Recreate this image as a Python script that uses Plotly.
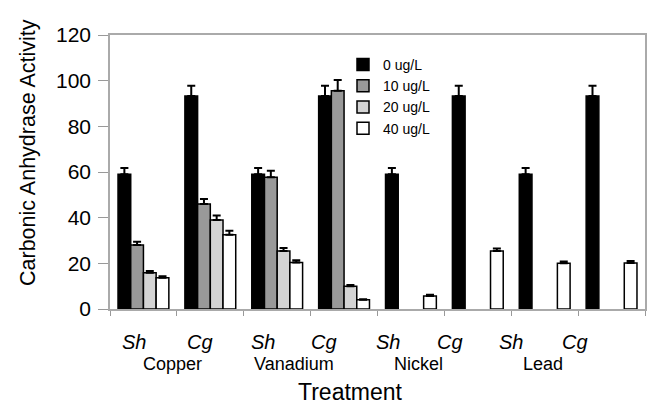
import plotly.graph_objects as go

groups = ["Cu-Sh", "Cu-Cg", "V-Sh", "V-Cg", "Ni-Sh", "Ni-Cg", "Pb-Sh", "Pb-Cg"]
species_labels = ["Sh", "Cg", "Sh", "Cg", "Sh", "Cg", "Sh", "Cg"]
metals = ["Copper", "Vanadium", "Nickel", "Lead"]
series_names = ["0 ug/L", "10 ug/L", "20 ug/L", "40 ug/L"]

vals_0 = [59, 93.3, 59, 93.3, 59, 93.3, 59, 93.3]
vals_10 = [28, 46, 57.7, 95.6, None, None, None, None]
vals_20 = [15.9, 39, 25.4, 10, None, None, None, None]
vals_40 = [13.7, 32.5, 20.4, 4, 5.7, 25.4, 20, 20.2]

err_0 = [2.7, 4.5, 2.7, 4.5, 2.7, 4.5, 2.7, 4.5]
err_10 = [1.5, 2.2, 2.9, 4.7, 0, 0, 0, 0]
err_20 = [0.7, 2.0, 1.3, 0.5, 0, 0, 0, 0]
err_40 = [0.6, 1.8, 1.0, 0.3, 0.5, 1.1, 0.8, 0.8]

colors = ["#000000", "#999999", "#d4d4d4", "#ffffff"]

# label positions (pixels)
species_px = [134, 200, 263, 324, 388, 450, 511, 575]
metal_px = [172, 294, 418, 543]

L, R, T, B = 110, 7, 35, 100
W, H = 652, 409
pw = W - L - R
ph = H - T - B


def px_to_paper_x(px):
    return (px - L) / pw


def py_to_paper_y(py):
    return (H - B - py) / ph


fig = go.Figure()
for name, v, e, c in zip(series_names, [vals_0, vals_10, vals_20, vals_40],
                         [err_0, err_10, err_20, err_40], colors):
    fig.add_trace(go.Bar(
        x=groups, y=v, name=name,
        marker=dict(color=c, line=dict(color="#000000", width=1.5)),
        error_y=dict(type="data", array=e, arrayminus=[0] * len(e), symmetric=False,
                     color="#000000", thickness=2, width=4),
    ))

annotations = []
for s, px in zip(species_labels, species_px):
    annotations.append(dict(text=f"<i>{s}</i>", x=px_to_paper_x(px), y=py_to_paper_y(342),
                            xref="paper", yref="paper", xanchor="center", yanchor="middle",
                            showarrow=False, font=dict(size=20, color="#000")))
for m, px in zip(metals, metal_px):
    annotations.append(dict(text=m, x=px_to_paper_x(px), y=py_to_paper_y(364),
                            xref="paper", yref="paper", xanchor="center", yanchor="middle",
                            showarrow=False, font=dict(size=18, color="#000")))
annotations.append(dict(text="Treatment", x=px_to_paper_x(350), y=py_to_paper_y(392),
                        xref="paper", yref="paper", xanchor="center", yanchor="middle",
                        showarrow=False, font=dict(size=23, color="#000")))
annotations.append(dict(text="Carbonic Anhydrase Activity", x=px_to_paper_x(28),
                        y=py_to_paper_y(153), xref="paper", yref="paper",
                        xanchor="center", yanchor="middle", textangle=-90, showarrow=False,
                        font=dict(size=21.5, color="#000")))

fig.update_layout(
    width=W, height=H,
    margin=dict(l=L, r=R, t=T, b=B, autoexpand=False),
    paper_bgcolor="white", plot_bgcolor="white",
    font=dict(family="Liberation Sans, Arial, sans-serif", color="#000"),
    barmode="group", bargap=0.24, bargroupgap=0,
    showlegend=True,
    legend=dict(x=px_to_paper_x(343), y=py_to_paper_y(49), xanchor="left", yanchor="top",
                bgcolor="rgba(0,0,0,0)", font=dict(size=14), tracegroupgap=0,
                itemwidth=30),
    annotations=annotations,
    xaxis=dict(showticklabels=False, tickson="boundaries", ticks="outside", ticklen=5,
               tickcolor="#999", showline=True, linecolor="#aaa", linewidth=1.5,
               mirror=True, showgrid=False, automargin=False),
    yaxis=dict(range=[0, 120], tickvals=[0, 20, 40, 60, 80, 100, 120], ticks="outside",
               ticklen=10, tickcolor="#999", showline=True, linecolor="#aaa", linewidth=1.5,
               mirror=True, showgrid=False, zeroline=False, automargin=False,
               ticklabelstandoff=3, tickfont=dict(size=21)),
)

fig.write_html("out.html", config={"displayModeBar": False},
               post_script="document.body.style.margin='0';document.body.style.overflow='hidden';")
